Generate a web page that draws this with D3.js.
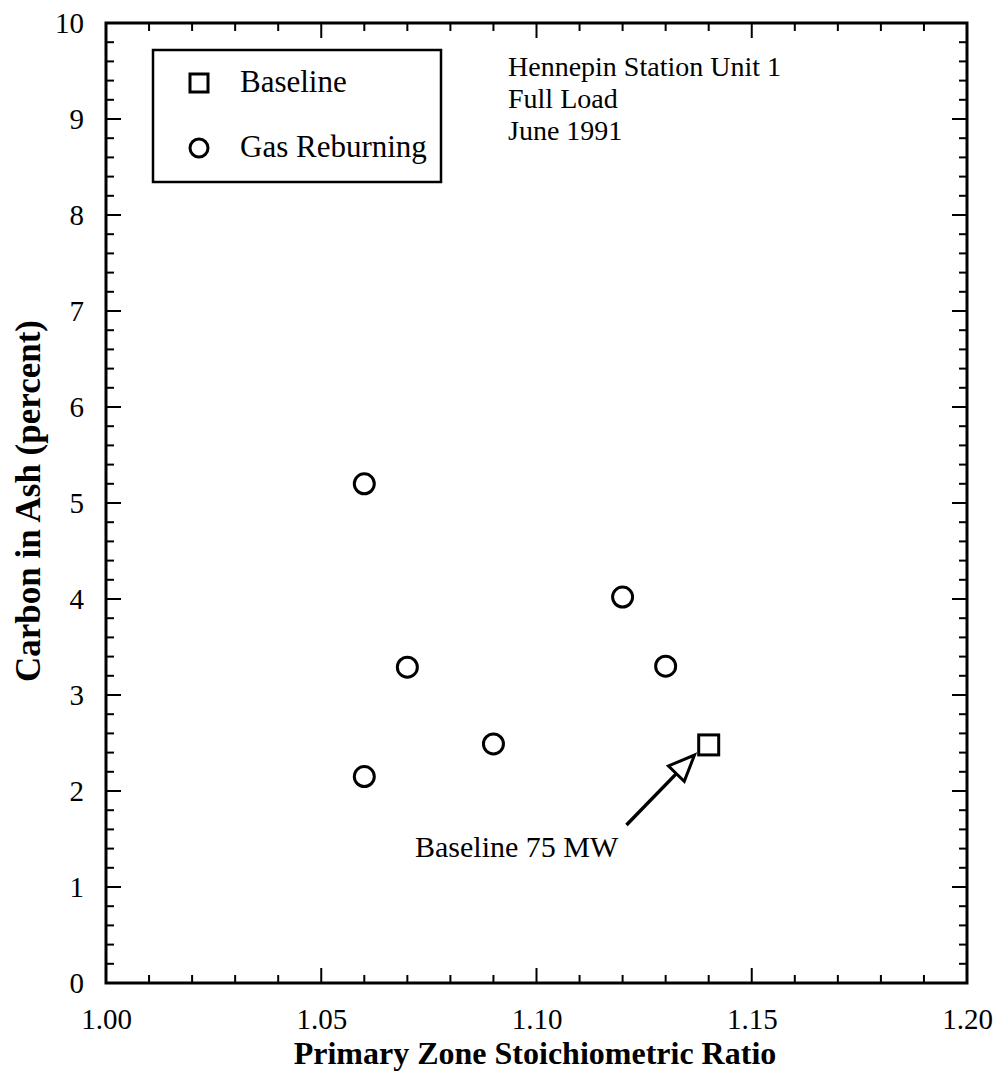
<!DOCTYPE html>
<html>
<head>
<meta charset="utf-8">
<script src="https://cdn.jsdelivr.net/npm/d3@7"></script>
<style>
  html, body { margin: 0; padding: 0; background: #fff; }
  svg { display: block; }
  text { font-family: "Liberation Serif", "Times New Roman", serif; fill: #000; }
</style>
</head>
<body>
<svg id="chart" width="1005" height="1081"></svg>
<script>
// ---- data ----
const reburnX = [1.06, 1.07, 1.06, 1.09, 1.12, 1.13];
const reburnY = [5.20, 3.29, 2.15, 2.49, 4.02, 3.30];
const baselineX = [1.14];
const baselineY = [2.48];
const xTickValues = [1.00, 1.05, 1.10, 1.15, 1.20];
const xTickLabels = ["1.00", "1.05", "1.10", "1.15", "1.20"];
const yTickValues = [0,1,2,3,4,5,6,7,8,9,10];
const yTickLabels = ["0","1","2","3","4","5","6","7","8","9","10"];
const legendLabels = ["Baseline", "Gas Reburning"];
const noteLines = ["Hennepin Station Unit 1", "Full Load", "June 1991"];
const annotationText = "Baseline 75 MW";
// arrow tail and tip, in data units
const arrowFrom = [1.1209, 1.646];
const arrowTo = [1.1367, 2.375];

(function () {
// ---- layout ----
const svg = d3.select("#chart");
const mLeft = 106, mRight = 967, mTop = 23, mBottom = 983;
const x = d3.scaleLinear().domain([1.00, 1.20]).range([mLeft, mRight]);
const y = d3.scaleLinear().domain([0, 10]).range([mBottom, mTop]);

const g = svg.append("g");

const xMinor = d3.range(0, 21).map(i => 1 + i * 0.01);
const yMinor = d3.range(0, 51).map(i => i * 0.2);
function isMajorX(v) { return Math.abs(Math.round(v * 20) - v * 20) < 1e-6; }
function isMajorY(v) { return Math.abs(Math.round(v) - v) < 1e-6; }

const tickG = g.append("g").attr("stroke", "#000").attr("stroke-width", 2);
xMinor.forEach(v => {
  const len = isMajorX(v) ? 15 : 8;
  tickG.append("line").attr("x1", x(v)).attr("x2", x(v)).attr("y1", mBottom).attr("y2", mBottom - len);
  tickG.append("line").attr("x1", x(v)).attr("x2", x(v)).attr("y1", mTop).attr("y2", mTop + len);
});
yMinor.forEach(v => {
  const len = isMajorY(v) ? 15 : 8;
  tickG.append("line").attr("x1", mLeft).attr("x2", mLeft + len).attr("y1", y(v)).attr("y2", y(v));
  tickG.append("line").attr("x1", mRight).attr("x2", mRight - len).attr("y1", y(v)).attr("y2", y(v));
});

// frame
g.append("rect").attr("x", mLeft).attr("y", mTop).attr("width", mRight - mLeft).attr("height", mBottom - mTop)
  .attr("fill", "none").attr("stroke", "#000").attr("stroke-width", 3);

// tick labels via d3 axes
const xAxis = d3.axisBottom(x).tickValues(xTickValues).tickFormat((d, i) => xTickLabels[i]).tickSize(0).tickPadding(0);
const xa = g.append("g").attr("transform", `translate(0,${mBottom})`).call(xAxis);
xa.select(".domain").remove();
xa.selectAll("text").attr("font-size", 29).attr("dy", null).attr("y", 46)
  .style("font-family", '"Liberation Serif", serif').attr("fill", "#000");

const yAxis = d3.axisLeft(y).tickValues(yTickValues).tickFormat((d, i) => yTickLabels[i]).tickSize(0).tickPadding(0);
const ya = g.append("g").attr("transform", `translate(${mLeft},0)`).call(yAxis);
ya.select(".domain").remove();
ya.selectAll("text").attr("font-size", 29).attr("x", -22).attr("dy", "0.33em")
  .style("font-family", '"Liberation Serif", serif').attr("fill", "#000");

// axis titles
g.append("text").attr("x", 535).attr("y", 1064).attr("text-anchor", "middle")
  .attr("font-size", 32).attr("font-weight", "bold").text("Primary Zone Stoichiometric Ratio");
g.append("text").attr("transform", "translate(40,501) rotate(-90)").attr("text-anchor", "middle")
  .attr("font-size", 35).attr("font-weight", "bold").text("Carbon in Ash (percent)");

// data points
g.selectAll("circle.reburn").data(reburnX.map((d, i) => [d, reburnY[i]])).enter()
  .append("circle").attr("class", "reburn")
  .attr("cx", d => x(d[0])).attr("cy", d => y(d[1])).attr("r", 10)
  .attr("fill", "none").attr("stroke", "#000").attr("stroke-width", 3);
const sq = 20;
g.selectAll("rect.base").data(baselineX.map((d, i) => [d, baselineY[i]])).enter()
  .append("rect").attr("class", "base")
  .attr("x", d => x(d[0]) - sq / 2).attr("y", d => y(d[1]) - sq / 2)
  .attr("width", sq).attr("height", sq)
  .attr("fill", "none").attr("stroke", "#000").attr("stroke-width", 3);

// legend
const lg = g.append("g");
lg.append("rect").attr("x", 153).attr("y", 50).attr("width", 288).attr("height", 132)
  .attr("fill", "#fff").attr("stroke", "#000").attr("stroke-width", 2.5);
lg.append("rect").attr("x", 190).attr("y", 74).attr("width", 18).attr("height", 18)
  .attr("fill", "none").attr("stroke", "#000").attr("stroke-width", 3);
lg.append("circle").attr("cx", 199).attr("cy", 148).attr("r", 9)
  .attr("fill", "none").attr("stroke", "#000").attr("stroke-width", 3);
lg.append("text").attr("x", 240).attr("y", 92).attr("font-size", 31).text(legendLabels[0]);
lg.append("text").attr("x", 240).attr("y", 157).attr("font-size", 31).text(legendLabels[1]);

// note
noteLines.forEach((t, i) => {
  g.append("text").attr("x", 508).attr("y", 76 + i * 32).attr("font-size", 28).text(t);
});

// annotation
g.append("text").attr("x", 415).attr("y", 857).attr("font-size", 30).text(annotationText);
const ax1 = x(arrowFrom[0]), ay1 = y(arrowFrom[1]);
const ax2 = x(arrowTo[0]), ay2 = y(arrowTo[1]);
const ang = Math.atan2(ay2 - ay1, ax2 - ax1);
const headLen = 26, headW = 11;
const bx = ax2 - headLen * Math.cos(ang), by = ay2 - headLen * Math.sin(ang);
g.append("line").attr("x1", ax1).attr("y1", ay1).attr("x2", bx).attr("y2", by)
  .attr("stroke", "#000").attr("stroke-width", 3.5);
const px = -Math.sin(ang), py = Math.cos(ang);
g.append("path")
  .attr("d", d3.line()([[ax2, ay2], [bx + px * headW, by + py * headW], [bx - px * headW, by - py * headW]]) + "Z")
  .attr("fill", "#fff").attr("stroke", "#000").attr("stroke-width", 3).attr("stroke-linejoin", "miter");
})();
</script>
</body>
</html>
